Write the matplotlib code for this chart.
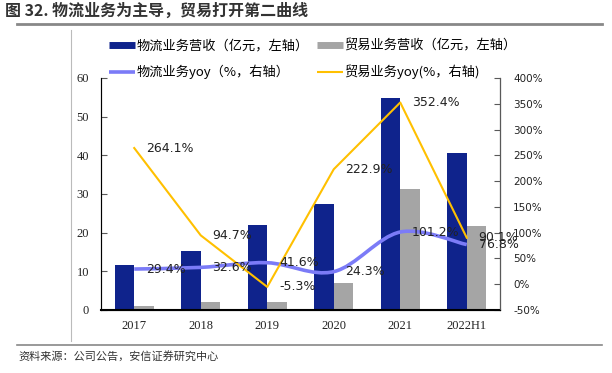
import numpy as np
import matplotlib
matplotlib.use("Agg")
import matplotlib.pyplot as plt
from matplotlib.path import Path
from matplotlib.patches import PathPatch
from matplotlib.lines import Line2D

plt.rcParams['font.family'] = ['Noto Sans CJK SC', 'DejaVu Sans']

years = ['2017', '2018', '2019', '2020', '2021', '2022H1']
wl_rev = [11.6, 15.3, 22.0, 27.3, 54.9, 40.6]   # 物流业务营收 (亿元)
my_rev = [1.1, 2.1, 2.0, 6.9, 31.2, 21.8]       # 贸易业务营收 (亿元)
wl_yoy = [29.4, 32.6, 41.6, 24.3, 101.2, 76.8]  # 物流业务yoy (%)
my_yoy = [264.1, 94.7, -5.3, 222.9, 352.4, 90.1]  # 贸易业务yoy (%)

c_blue = '#0f238c'
c_gray = '#a5a5a5'
c_purple = '#7b7bf7'
c_gold = '#ffc000'

fig = plt.figure(figsize=(6.12, 3.73), dpi=100)
ax = fig.add_axes([0.165, 0.169, 0.652, 0.622])

x = np.arange(len(years))
w = 0.29
ax.bar(x - w / 2, wl_rev, w, color=c_blue)
ax.bar(x + w / 2, my_rev, w, color=c_gray)
ax.set_xlim(-0.5, len(years) - 0.5)
ax.set_ylim(0, 60)
ax.set_yticks(range(0, 61, 10))
ax.set_xticks(x)
ax.set_xticklabels(years)
ax.tick_params(axis='y', direction='in', length=4, color='#595959', pad=8.5, labelsize=9)
ax.tick_params(axis='x', length=0, pad=7, labelsize=9)
for lab in ax.get_xticklabels() + ax.get_yticklabels():
    lab.set_fontfamily('Liberation Serif')
    lab.set_color('#222222')
ax.spines['top'].set_visible(False)
ax.spines['left'].set_color('#595959')
ax.spines['bottom'].set_color('black')
ax.spines['bottom'].set_linewidth(1.5)

ax2 = ax.twinx()
ax2.set_ylim(-50, 400)
ax2.set_yticks(range(-50, 401, 50))
ax2.set_yticklabels([f'{v}%' for v in range(-50, 401, 50)])
ax2.tick_params(axis='y', direction='in', length=4, color='#595959', pad=9.5, labelsize=7.5)
for lab in ax2.get_yticklabels():
    lab.set_fontfamily('DejaVu Sans')
    lab.set_color('#222222')
ax2.spines['top'].set_visible(False)
ax2.spines['right'].set_color('#595959')

# trade yoy: straight line
ax2.plot(x, my_yoy, color=c_gold, lw=1.5)

# logistics yoy: smoothed curve (bezier through the data points)
pts = np.column_stack([x, wl_yoy]).astype(float)
verts = [pts[0]]
codes = [Path.MOVETO]
n = len(pts)
for i in range(n - 1):
    p0 = pts[max(i - 1, 0)]
    p1 = pts[i]
    p2 = pts[i + 1]
    p3 = pts[min(i + 2, n - 1)]
    verts += [p1 + (p2 - p0) / 6, p2 - (p3 - p1) / 6, p2]
    codes += [Path.CURVE4] * 3
ax2.add_patch(PathPatch(Path(verts, codes), fill=False, edgecolor=c_purple,
                        lw=2.6, capstyle='butt'))

for xi, v in zip(x, my_yoy):
    ax2.annotate(f'{v}%', (xi, v), xytext=(8.5, 0), textcoords='offset points',
                 ha='left', va='center', fontsize=9, family='DejaVu Sans', color='#222222')
for xi, v in zip(x, wl_yoy):
    ax2.annotate(f'{v}%', (xi, v), xytext=(8.5, 0), textcoords='offset points',
                 ha='left', va='center', fontsize=9, family='DejaVu Sans', color='#222222')

handles = [
    Line2D([], [], color=c_blue, lw=5, solid_capstyle='butt'),
    Line2D([], [], color=c_purple, lw=2.6, solid_capstyle='butt'),
    Line2D([], [], color=c_gray, lw=5, solid_capstyle='butt'),
    Line2D([], [], color=c_gold, lw=1.5, solid_capstyle='butt'),
]
labels = ['物流业务营收（亿元，左轴）', '物流业务yoy（%，右轴）',
          '贸易业务营收（亿元，左轴）', '贸易业务yoy(%，右轴)']
fig.legend(handles, labels, loc='upper left', bbox_to_anchor=(0.178, 0.895),
           ncol=2, frameon=False, fontsize=9.5, handlelength=2.0, handletextpad=0.1,
           columnspacing=0.6, labelspacing=0.95, borderpad=0, borderaxespad=0)

# title, frame lines and source
fig.text(0.008, 0.972, '图 32. 物流业务为主导，贸易打开第二曲线', fontsize=11.5,
         fontweight='bold', color='#333333', ha='left', va='center')
fig.add_artist(Line2D([0.028, 0.983], [0.935, 0.935], color='#888888', lw=2))
fig.add_artist(Line2D([0.116, 0.116], [0.92, 0.085], color='#bbbbbb', lw=0.8))
fig.add_artist(Line2D([0.028, 0.983], [0.075, 0.075], color='#888888', lw=1.2))
fig.text(0.03, 0.045, '资料来源：公司公告，安信证券研究中心', fontsize=8,
         color='#333333', ha='left', va='center')

fig.savefig('out.png', dpi=100)
